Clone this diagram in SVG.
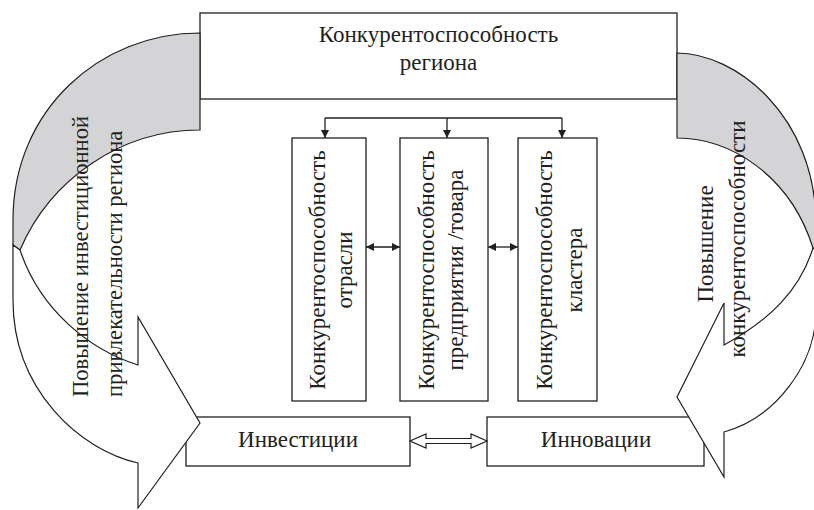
<svg xmlns="http://www.w3.org/2000/svg" width="814" height="510" viewBox="0 0 814 510">
<defs>
<style>
.box{fill:#fff;stroke:#231f20;stroke-width:1.3}
.back{fill:#d4d4d6;stroke:#231f20;stroke-width:1.2}
.front{fill:#fff;stroke:#231f20;stroke-width:1.2}
.t{font-family:"Liberation Serif","Times New Roman",serif;font-size:23px;fill:#231f20}
.s{font-size:22.6px}
.c{text-anchor:middle}
.ln{fill:none;stroke:#231f20;stroke-width:1.3}
</style>
<marker id="ah" viewBox="0 0 10 10" refX="10" refY="5" markerWidth="8" markerHeight="8" markerUnits="userSpaceOnUse" orient="auto-start-reverse">
<path d="M0,0 L10,5 L0,10 Z" fill="#231f20"/>
</marker>
</defs>
<rect width="814" height="510" fill="#fff"/>

<g id="node-region">
<rect class="box" x="200" y="13" width="477" height="86"/>
<text class="t c" x="438.5" y="42">Конкурентоспособность</text>
<text class="t c" x="438.5" y="70">региона</text>
</g>

<g id="node-industry">
<rect class="box" x="292" y="138" width="74" height="263"/>
<text class="t c" transform="translate(325,270) rotate(-90)">Конкурентоспособность</text>
<text class="t c" transform="translate(352,270) rotate(-90)">отрасли</text>
</g>

<g id="node-enterprise">
<rect class="box" x="400" y="138" width="88" height="263"/>
<text class="t c" transform="translate(434,270) rotate(-90)">Конкурентоспособность</text>
<text class="t c" transform="translate(463,270) rotate(-90)">предприятия /товара</text>
</g>

<g id="node-cluster">
<rect class="box" x="518" y="138" width="79" height="263"/>
<text class="t c" transform="translate(552,270) rotate(-90)">Конкурентоспособность</text>
<text class="t c" transform="translate(582,270) rotate(-90)">кластера</text>
</g>

<g id="node-investments">
<rect class="box" x="186" y="417" width="224" height="49"/>
<text class="t c" x="298" y="447">Инвестиции</text>
</g>

<g id="node-innovations">
<rect class="box" x="487" y="417" width="217" height="49"/>
<text class="t c" x="596" y="447">Инновации</text>
</g>

<g id="connectors">
<path class="ln" d="M325,118 L562,118"/>
<path class="ln" d="M325,118 L325,138" marker-end="url(#ah)"/>
<path class="ln" d="M447,118 L447,138" marker-end="url(#ah)"/>
<path class="ln" d="M562,118 L562,138" marker-end="url(#ah)"/>
<path class="ln" d="M366,247 L400,247" marker-start="url(#ah)" marker-end="url(#ah)"/>
<path class="ln" d="M488,247 L518,247" marker-start="url(#ah)" marker-end="url(#ah)"/>
<path fill="#fff" stroke="#231f20" stroke-width="1.2" d="M410,441 L426,434 L426,438.5 L471,438.5 L471,434 L487,441 L471,448 L471,443.5 L426,443.5 L426,448 Z"/>
</g>

<g id="node-left-arrow">
<path class="back" d="M200,33 C100,33 13,110 13,220 L13,245 L20,250 C50,180 120,130 200,130 Z"/>
<path class="front" d="M13,245 L13,300 C13,390 80,450 138,463 L138,508 L200,423 L138,317 L138,365 C90,350 40,310 20,250 Z"/>
<text class="t s" transform="translate(88,397) rotate(-90)">Повышение инвестиционной</text>
<text class="t s" transform="translate(122,397) rotate(-90)">привлекательности региона</text>
</g>

<g id="node-right-arrow">
<path class="back" d="M677,53 C735,53 816,115 816,225 L816,250 L813,248 C790,175 730,138 677,138 Z"/>
<path class="front" d="M813,248 L816,250 L816,310 C816,365 775,418 724,432 L724,477 L677,397 L724,303 L724,345 C770,320 800,290 813,248 Z"/>
<text class="t c" transform="translate(713,244) rotate(-90)">Повышение</text>
<text class="t c" transform="translate(745,239) rotate(-90)">конкурентоспособности</text>
</g>
</svg>
